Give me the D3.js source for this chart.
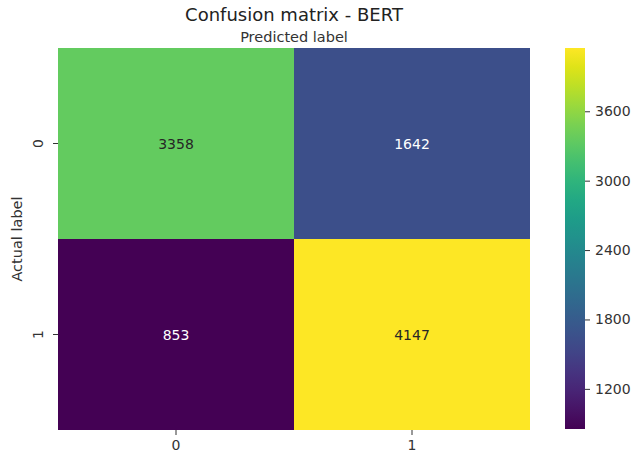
<!DOCTYPE html>
<html>
<head>
<meta charset="utf-8">
<script src="https://cdn.jsdelivr.net/npm/d3@7"></script>
<style>
  html, body { margin: 0; padding: 0; background: #fff; }
  svg { display: block; font-family: "DejaVu Sans", sans-serif; }
</style>
</head>
<body>
<svg id="chart" width="636" height="457"></svg>
<script>
// Confusion matrix counts (rows: actual, columns: predicted)
const actualLabels = ["0", "1"];
const predictedLabels = ["0", "1"];
const row0 = [3358, 1642];
const row1 = [853, 4147];
const colorbarTicks = [1200, 1800, 2400, 3000, 3600];

const matrix = [row0, row1];
const cells = [];
matrix.forEach((row, i) => row.forEach((v, j) => cells.push({ actual: actualLabels[i], predicted: predictedLabels[j], value: v })));

const svg = d3.select("#chart");
const plotLeft = 58, plotRight = 530, plotTop = 48, plotBottom = 430;
const textColor = "#333";
const tickFont = 14;

const x = d3.scaleBand().domain(predictedLabels).range([plotLeft, plotRight]);
const y = d3.scaleBand().domain(actualLabels).range([plotTop, plotBottom]);
const allValues = cells.map(d => d.value);
const vmin = d3.min(allValues), vmax = d3.max(allValues);
const color = d3.scaleSequential(d3.interpolateViridis).domain([vmin, vmax]);

// Heatmap cells
svg.append("g").selectAll("rect").data(cells).join("rect")
  .attr("x", d => x(d.predicted))
  .attr("y", d => y(d.actual))
  .attr("width", x.bandwidth())
  .attr("height", y.bandwidth())
  .attr("fill", d => color(d.value));

// Cell annotations: light text on dark cells, dark text on light cells
svg.append("g").selectAll("text").data(cells).join("text")
  .attr("x", d => x(d.predicted) + x.bandwidth() / 2)
  .attr("y", d => y(d.actual) + y.bandwidth() / 2)
  .attr("text-anchor", "middle")
  .attr("dominant-baseline", "central")
  .attr("font-size", 14)
  .attr("fill", d => d3.hsl(color(d.value)).l > 0.45 ? "#262626" : "#ffffff")
  .text(d => d.value);

// Bottom axis
const xAxis = svg.append("g")
  .attr("transform", `translate(0,${plotBottom})`)
  .call(d3.axisBottom(x).tickSize(5).tickPadding(5));
xAxis.select(".domain").remove();
xAxis.selectAll("line").attr("stroke", textColor);
xAxis.selectAll("text").attr("font-size", tickFont).attr("fill", textColor).attr("font-family", "DejaVu Sans, sans-serif");

// Left axis with rotated tick labels
const yAxis = svg.append("g")
  .attr("transform", `translate(${plotLeft},0)`)
  .call(d3.axisLeft(y).tickSize(5).tickPadding(5));
yAxis.select(".domain").remove();
yAxis.selectAll("line").attr("stroke", textColor);
yAxis.selectAll("text")
  .attr("font-size", tickFont).attr("fill", textColor).attr("font-family", "DejaVu Sans, sans-serif")
  .attr("text-anchor", "middle")
  .attr("dy", null)
  .attr("x", null)
  .attr("transform", "translate(-20,0) rotate(-90)")
  .attr("dominant-baseline", "central");

// Titles
svg.append("text")
  .attr("x", (plotLeft + plotRight) / 2).attr("y", 21)
  .attr("text-anchor", "middle").attr("font-size", 18).attr("fill", "#222")
  .text("Confusion matrix - BERT");
svg.append("text")
  .attr("x", (plotLeft + plotRight) / 2).attr("y", 42)
  .attr("text-anchor", "middle").attr("font-size", 14.5).attr("fill", textColor)
  .text("Predicted label");
svg.append("text")
  .attr("transform", `translate(22,${(plotTop + plotBottom) / 2}) rotate(-90)`)
  .attr("text-anchor", "middle").attr("font-size", 14.5).attr("fill", textColor)
  .text("Actual label");

// Colorbar
const cbX = 565, cbW = 20;
const cbScale = d3.scaleLinear().domain([vmin, vmax]).range([plotBottom - 1, plotTop]);
const defs = svg.append("defs");
const grad = defs.append("linearGradient").attr("id", "cb-grad")
  .attr("x1", 0).attr("y1", 1).attr("x2", 0).attr("y2", 0);
d3.range(0, 1.0001, 0.05).forEach(t => {
  grad.append("stop").attr("offset", t).attr("stop-color", d3.interpolateViridis(t));
});
svg.append("rect")
  .attr("x", cbX).attr("y", plotTop).attr("width", cbW).attr("height", plotBottom - 1 - plotTop)
  .attr("fill", "url(#cb-grad)");
const cbAxis = svg.append("g")
  .attr("transform", `translate(${cbX + cbW},0)`)
  .call(d3.axisRight(cbScale).tickValues(colorbarTicks).tickFormat(d3.format("d")).tickSize(5).tickPadding(5));
cbAxis.select(".domain").remove();
cbAxis.selectAll("line").attr("stroke", textColor);
cbAxis.selectAll("text").attr("font-size", tickFont).attr("fill", textColor).attr("font-family", "DejaVu Sans, sans-serif");
</script>
</body>
</html>
